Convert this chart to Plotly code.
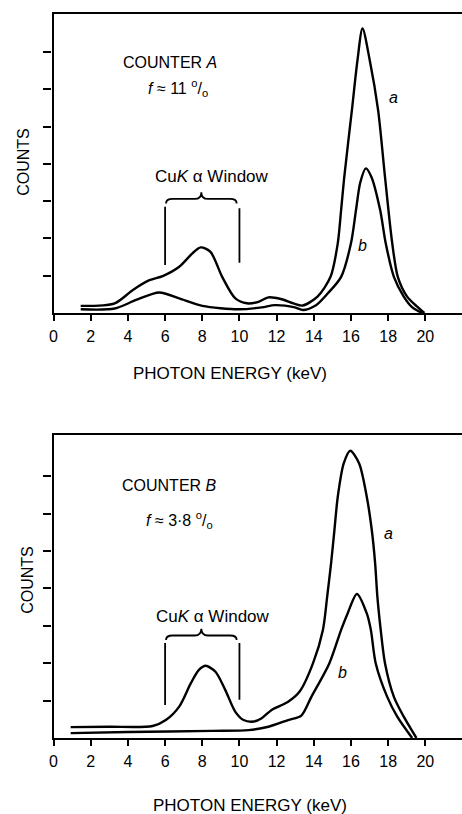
import plotly.graph_objects as go

# ---------------- data ----------------
# Counter A (top panel)
A_a_x = [1.46, 3.29, 4.27, 5.16, 5.87, 6.76, 7.47, 7.91, 8.44, 9.07, 9.78, 10.4, 11.02, 11.56,
         12.27, 12.9, 13.4, 14.2, 14.9, 15.29, 15.47, 15.64, 16.05, 16.35, 16.62, 17.01, 17.46,
         17.83, 18.22, 18.52, 19.02, 19.56, 19.95]
A_a_y = [0.19, 0.26, 0.62, 0.88, 0.99, 1.24, 1.6, 1.76, 1.64, 0.97, 0.39, 0.26, 0.3, 0.42,
         0.37, 0.26, 0.2, 0.44, 0.97, 1.87, 2.76, 3.65, 5.44, 6.78, 7.63, 6.78, 5.44,
         3.65, 1.87, 0.97, 0.44, 0.17, 0.0]
A_b_x = [1.46, 3.29, 4.44, 5.69, 6.76, 8.0, 9.96, 11.2, 11.91, 12.98, 13.42, 14.1, 14.76,
         15.47, 16.0, 16.27, 16.5, 16.8, 17.1, 17.57, 17.87, 18.31, 18.84, 19.3, 19.82]
A_b_y = [0.1, 0.12, 0.35, 0.55, 0.39, 0.19, 0.1, 0.15, 0.21, 0.15, 0.08, 0.2, 0.53,
         0.97, 1.87, 2.76, 3.5, 3.88, 3.65, 2.76, 1.87, 0.97, 0.44, 0.15, 0.0]

# Counter B (bottom panel)
B_a_x = [0.92, 3.0, 5.33, 6.04, 6.76, 7.38, 7.82, 8.18, 8.71, 9.24, 9.78, 10.22, 10.76, 11.2,
         11.73, 12.62, 13.25, 13.96, 14.49, 14.72, 14.93, 15.11, 15.29, 15.61, 15.96, 16.44,
         16.85, 17.12, 17.3, 17.42, 17.6, 17.83, 18.31, 18.84, 19.52]
B_a_y = [0.29, 0.3, 0.32, 0.48, 0.84, 1.46, 1.82, 1.93, 1.77, 1.28, 0.7, 0.48, 0.44, 0.53,
         0.75, 0.97, 1.25, 2.0, 2.89, 3.78, 4.67, 5.56, 6.45, 7.34, 7.68, 7.34,
         6.45, 5.56, 4.67, 3.78, 2.89, 2.0, 1.1, 0.57, 0.0]
B_b_x = [0.92, 4.0, 8.53, 10.49, 11.56, 12.62, 13.33, 13.87, 14.84, 15.47, 15.82, 16.32,
         16.85, 17.07, 17.33, 17.95, 18.49, 19.29]
B_b_y = [0.13, 0.16, 0.19, 0.21, 0.3, 0.48, 0.6, 1.1, 2.0, 2.89, 3.33, 3.85,
         3.33, 2.89, 2.0, 1.1, 0.57, 0.0]

# CuK alpha window bounds (keV)
window_keV = [6.0, 10.0]
x_tick_vals = [0, 2, 4, 6, 8, 10, 12, 14, 16, 18, 20]
y_tick_vals = [1, 2, 3, 4, 5, 6, 7]

FONT = "Liberation Sans, Arial, Helvetica, sans-serif"
W, H = 462, 814

fig = go.Figure()
line_style = dict(color="black", width=2.4, shape="spline", smoothing=0.8)
for xs, ys, ax in [(A_a_x, A_a_y, "y"), (A_b_x, A_b_y, "y"),
                   (B_a_x, B_a_y, "y2"), (B_b_x, B_b_y, "y2")]:
    fig.add_trace(go.Scatter(x=xs, y=ys, mode="lines", line=line_style,
                             xaxis="x" if ax == "y" else "x2", yaxis=ax,
                             showlegend=False, hoverinfo="skip"))

x_left = 50 / W
x_range = [0, (W - 50) / 18.75]
dom_top = [1 - 313 / H, 1 - 14 / H]
dom_bot = [1 - 738 / H, 1 - 435 / H]

xcommon = dict(range=x_range, domain=[x_left, 1], showgrid=False, zeroline=False,
               showline=True, linecolor="black", linewidth=2.2, mirror=True,
               ticks="outside", ticklen=6, tickwidth=1.6, tickcolor="black",
               tickvals=x_tick_vals, tickfont=dict(family=FONT, size=16, color="black"),
               ticklabelstandoff=2)
ycommon = dict(showgrid=False, zeroline=False, showline=True, linecolor="black",
               linewidth=2.2, mirror=False, ticks="outside", ticklen=8, tickwidth=1.6,
               tickcolor="black", tickvals=y_tick_vals, showticklabels=False)

fig.update_layout(
    width=W, height=H, margin=dict(l=0, r=0, t=0, b=0),
    paper_bgcolor="white", plot_bgcolor="white",
    xaxis=dict(**xcommon, anchor="y"),
    yaxis=dict(**ycommon, domain=dom_top, range=[0, 8.02], anchor="x"),
    xaxis2=dict(**xcommon, anchor="y2"),
    yaxis2=dict(**ycommon, domain=dom_bot, range=[0, 8.1], anchor="x2"),
    font=dict(family=FONT, color="black"),
)


def brace_path(x0, x1, y, d, h, w):
    xc = (x0 + x1) / 2
    return (f"M {x0},{y - d} Q {x0},{y} {x0 + w},{y} L {xc - w},{y} "
            f"Q {xc},{y} {xc},{y + h} Q {xc},{y} {xc + w},{y} "
            f"L {x1 - w},{y} Q {x1},{y} {x1},{y - d}")


shapes = []
# window markers
for xr, yr, lo_y, hi_y, br_y in [("x", "y", [1.29, 1.35], [2.85, 2.81], 3.06),
                                  ("x2", "y2", [0.88, 1.02], [2.54, 2.54], 2.74)]:
    for xv, y0, y1 in zip(window_keV, lo_y, hi_y):
        shapes.append(dict(type="line", xref=xr, yref=yr, x0=xv, x1=xv, y0=y0, y1=y1,
                           line=dict(color="black", width=1.8)))
    shapes.append(dict(type="path", xref=xr, yref=yr,
                       path=brace_path(window_keV[0] + 0.05, window_keV[1] - 0.15,
                                       br_y, 0.12, 0.18, 0.35),
                       line=dict(color="black", width=1.8)))
fig.update_layout(shapes=shapes)

ann = []


def txt(text, x, y, xref, yref, size=16, angle=0):
    ann.append(dict(text=text, x=x, y=y, xref=xref, yref=yref, showarrow=False,
                    xanchor="center", yanchor="middle", textangle=angle,
                    font=dict(family=FONT, size=size, color="black")))


pct = "<sup>o</sup>/<sub>o</sub>"
# top panel
txt("COUNTER <i>A</i>", 6.24, 6.73, "x", "y", size=16)
txt("<i>f</i> ≈ 11 " + pct, 6.72, 6.03, "x", "y", size=16)
txt("Cu<i>K</i> α Window", 8.53, 3.65, "x", "y", size=17)
txt("<i>a</i>", 18.3, 5.79, "x", "y", size=16)
txt("<i>b</i>", 16.64, 1.82, "x", "y", size=16)
# bottom panel
txt("COUNTER <i>B</i>", 6.24, 6.74, "x2", "y2", size=16)
txt("<i>f</i> ≈ 3·8 " + pct, 6.77, 5.83, "x2", "y2", size=16)
txt("Cu<i>K</i> α Window", 8.59, 3.24, "x2", "y2", size=17)
txt("<i>a</i>", 18.03, 5.48, "x2", "y2", size=16)
txt("<i>b</i>", 15.57, 1.76, "x2", "y2", size=16)
# axis titles
txt("COUNTS", 19 / W, 1 - 162 / H, "paper", "paper", size=16, angle=-90)
txt("COUNTS", 23 / W, 1 - 580 / H, "paper", "paper", size=16, angle=-90)
txt("PHOTON ENERGY (keV)", 228 / W, 1 - 373 / H, "paper", "paper", size=17)
txt("PHOTON ENERGY (keV)", 248 / W, 1 - 805 / H, "paper", "paper", size=17)
fig.update_layout(annotations=ann)

fig.write_html("out.html", config={"displayModeBar": False},
               post_script="document.body.style.margin='0';document.body.style.overflow='hidden';")
